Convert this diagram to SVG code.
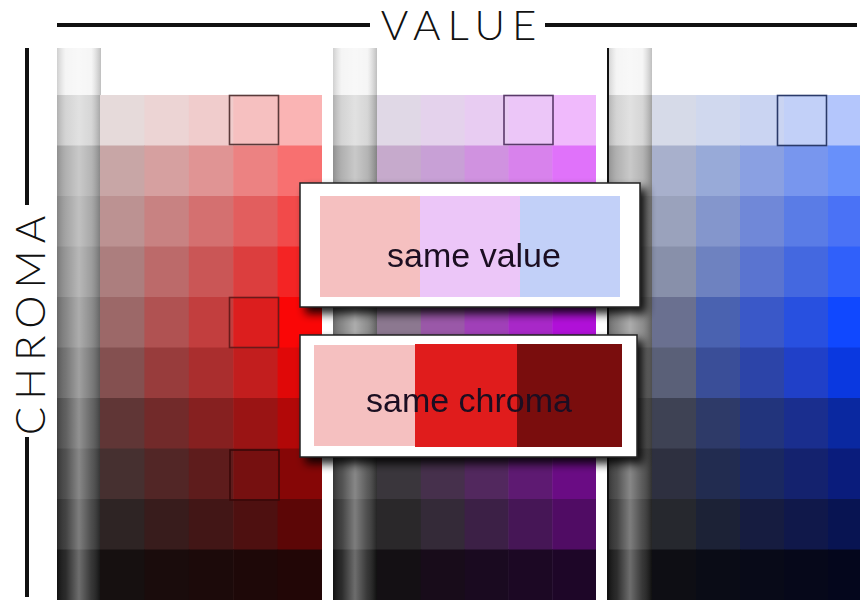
<svg xmlns="http://www.w3.org/2000/svg" width="860" height="600" viewBox="0 0 860 600">
<defs>
<linearGradient id="cyl" x1="0" y1="0" x2="1" y2="0">
<stop offset="0" stop-color="#000" stop-opacity="0.15"/>
<stop offset="0.2" stop-color="#fff" stop-opacity="0.1"/>
<stop offset="0.5" stop-color="#fff" stop-opacity="0.38"/>
<stop offset="0.78" stop-color="#fff" stop-opacity="0.15"/>
<stop offset="1" stop-color="#000" stop-opacity="0.22"/>
</linearGradient>
<filter id="sh" x="-10%" y="-15%" width="130%" height="145%">
<feGaussianBlur in="SourceAlpha" stdDeviation="5"/>
<feOffset dx="6" dy="6"/>
<feComponentTransfer><feFuncA type="linear" slope="0.9"/></feComponentTransfer>
<feMerge><feMergeNode/><feMergeNode in="SourceGraphic"/></feMerge>
</filter>
<g id="grayCol">
<rect x="0" y="48" width="44" height="48" fill="#f4f4f4"/>
<rect x="0" y="95" width="44" height="51" fill="#cfcfcf"/>
<rect x="0" y="145.5" width="44" height="51" fill="#a8a8a8"/>
<rect x="0" y="196" width="44" height="51" fill="#9a9a9a"/>
<rect x="0" y="246.5" width="44" height="51" fill="#8c8c8c"/>
<rect x="0" y="297" width="44" height="51" fill="#7a7a7a"/>
<rect x="0" y="347.5" width="44" height="51" fill="#666666"/>
<rect x="0" y="398" width="44" height="51" fill="#4e4e4e"/>
<rect x="0" y="448.5" width="44" height="51" fill="#3e3e3e"/>
<rect x="0" y="499" width="44" height="51" fill="#2e2e2e"/>
<rect x="0" y="549.5" width="44" height="51" fill="#141414"/>
<rect x="0" y="48" width="44" height="552" fill="url(#cyl)"/>
</g>
</defs>
<style>
.ax{font-family:Lato,"Open Sans","DejaVu Sans",sans-serif;font-weight:300;font-size:42px;fill:#111;letter-spacing:7px}
.lab{font-family:"Liberation Sans",Arial,sans-serif;font-size:34px;fill:#1a1020}
.sq{fill:none;stroke-width:1.6}
.box{fill:#fff;stroke:#222;stroke-width:1.5}
</style>
<rect width="860" height="600" fill="#fff"/>

<g id="axes">
<line x1="57" y1="25" x2="370" y2="25" stroke="#111" stroke-width="4"/>
<text class="ax" x="462" y="40" text-anchor="middle">VALUE</text>
<line x1="545" y1="25" x2="857" y2="25" stroke="#111" stroke-width="4"/>
<line x1="27" y1="48" x2="27" y2="205" stroke="#111" stroke-width="4"/>
<text class="ax" transform="translate(45,322) rotate(-90)" text-anchor="middle">CHROMA</text>
<line x1="27" y1="437" x2="27" y2="597" stroke="#111" stroke-width="4"/>
</g>

<g id="red-panel">
<use href="#grayCol" x="57"/>
<g transform="translate(100,0)">
<rect x="0" y="95" width="45" height="51" fill="#e6dada"/><rect x="44.4" y="95" width="45" height="51" fill="#ecd4d4"/><rect x="88.8" y="95" width="45" height="51" fill="#f0cccc"/><rect x="133.2" y="95" width="45" height="51" fill="#f6c0c0"/><rect x="177.6" y="95" width="44.4" height="51" fill="#fab4b4"/>
<rect x="0" y="145.5" width="45" height="51" fill="#c8a6a6"/><rect x="44.4" y="145.5" width="45" height="51" fill="#d6a0a0"/><rect x="88.8" y="145.5" width="45" height="51" fill="#e09494"/><rect x="133.2" y="145.5" width="45" height="51" fill="#ec8282"/><rect x="177.6" y="145.5" width="44.4" height="51" fill="#f87070"/>
<rect x="0" y="196" width="45" height="51" fill="#bc9292"/><rect x="44.4" y="196" width="45" height="51" fill="#c88282"/><rect x="88.8" y="196" width="45" height="51" fill="#d47070"/><rect x="133.2" y="196" width="45" height="51" fill="#e25e5e"/><rect x="177.6" y="196" width="44.4" height="51" fill="#f24a4a"/>
<rect x="0" y="246.5" width="45" height="51" fill="#ac7e7e"/><rect x="44.4" y="246.5" width="45" height="51" fill="#bc6a6a"/><rect x="88.8" y="246.5" width="45" height="51" fill="#ca5656"/><rect x="133.2" y="246.5" width="45" height="51" fill="#dc3e3e"/><rect x="177.6" y="246.5" width="44.4" height="51" fill="#f42424"/>
<rect x="0" y="297" width="45" height="51" fill="#9c6868"/><rect x="44.4" y="297" width="45" height="51" fill="#b05252"/><rect x="88.8" y="297" width="45" height="51" fill="#c23e3e"/><rect x="133.2" y="297" width="45" height="51" fill="#dc1e1e"/><rect x="177.6" y="297" width="44.4" height="51" fill="#fa0606"/>
<rect x="0" y="347.5" width="45" height="51" fill="#845050"/><rect x="44.4" y="347.5" width="45" height="51" fill="#983c3c"/><rect x="88.8" y="347.5" width="45" height="51" fill="#aa2e2e"/><rect x="133.2" y="347.5" width="45" height="51" fill="#c21e1e"/><rect x="177.6" y="347.5" width="44.4" height="51" fill="#e00808"/>
<rect x="0" y="398" width="45" height="51" fill="#603636"/><rect x="44.4" y="398" width="45" height="51" fill="#722a2a"/><rect x="88.8" y="398" width="45" height="51" fill="#862020"/><rect x="133.2" y="398" width="45" height="51" fill="#9a1414"/><rect x="177.6" y="398" width="44.4" height="51" fill="#b20808"/>
<rect x="0" y="448.5" width="45" height="51" fill="#463030"/><rect x="44.4" y="448.5" width="45" height="51" fill="#522626"/><rect x="88.8" y="448.5" width="45" height="51" fill="#5e1c1c"/><rect x="133.2" y="448.5" width="45" height="51" fill="#761010"/><rect x="177.6" y="448.5" width="44.4" height="51" fill="#860606"/>
<rect x="0" y="499" width="45" height="51" fill="#2e2424"/><rect x="44.4" y="499" width="45" height="51" fill="#381c1c"/><rect x="88.8" y="499" width="45" height="51" fill="#421616"/><rect x="133.2" y="499" width="45" height="51" fill="#4e1010"/><rect x="177.6" y="499" width="44.4" height="51" fill="#5c0606"/>
<rect x="0" y="549.5" width="45" height="51" fill="#161010"/><rect x="44.4" y="549.5" width="45" height="51" fill="#1a0c0c"/><rect x="88.8" y="549.5" width="45" height="51" fill="#1c0a0a"/><rect x="133.2" y="549.5" width="45" height="51" fill="#1e0808"/><rect x="177.6" y="549.5" width="44.4" height="51" fill="#220606"/>
</g>
<rect class="sq" x="229.5" y="95.5" width="49" height="49" stroke="#5a3a3a"/>
<rect class="sq" x="229.5" y="297.5" width="49" height="50" stroke="#6a1a1a"/>
<rect class="sq" x="230" y="450" width="49" height="50" stroke="#3a0808"/>
</g>

<g id="purple-panel">
<use href="#grayCol" x="333"/>
<g transform="translate(377,0)">
<rect x="0" y="95" width="44.3" height="51" fill="#e0d8e6"/><rect x="43.8" y="95" width="44.3" height="51" fill="#e4d2ec"/><rect x="87.6" y="95" width="44.3" height="51" fill="#e8ccf2"/><rect x="131.4" y="95" width="44.3" height="51" fill="#ecc6f8"/><rect x="175.2" y="95" width="43.8" height="51" fill="#f0bafc"/>
<rect x="0" y="145.5" width="44.3" height="51" fill="#c6aacc"/><rect x="43.8" y="145.5" width="44.3" height="51" fill="#c8a0d6"/><rect x="87.6" y="145.5" width="44.3" height="51" fill="#d092e0"/><rect x="131.4" y="145.5" width="44.3" height="51" fill="#d882ec"/><rect x="175.2" y="145.5" width="43.8" height="51" fill="#e072fa"/>
<rect x="0" y="196" width="44.3" height="51" fill="#b898bc"/><rect x="43.8" y="196" width="44.3" height="51" fill="#b888c8"/><rect x="87.6" y="196" width="44.3" height="51" fill="#c078d8"/><rect x="131.4" y="196" width="44.3" height="51" fill="#c864e8"/><rect x="175.2" y="196" width="43.8" height="51" fill="#d050f6"/>
<rect x="0" y="246.5" width="44.3" height="51" fill="#a888ac"/><rect x="43.8" y="246.5" width="44.3" height="51" fill="#a870bc"/><rect x="87.6" y="246.5" width="44.3" height="51" fill="#b05cd0"/><rect x="131.4" y="246.5" width="44.3" height="51" fill="#b848e2"/><rect x="175.2" y="246.5" width="43.8" height="51" fill="#c030f4"/>
<rect x="0" y="297" width="44.3" height="51" fill="#8c7890"/><rect x="43.8" y="297" width="44.3" height="51" fill="#9a58a8"/><rect x="87.6" y="297" width="44.3" height="51" fill="#a040b8"/><rect x="131.4" y="297" width="44.3" height="51" fill="#a828c8"/><rect x="175.2" y="297" width="43.8" height="51" fill="#b010d8"/>
<rect x="0" y="347.5" width="44.3" height="51" fill="#706070"/><rect x="43.8" y="347.5" width="44.3" height="51" fill="#7c4488"/><rect x="87.6" y="347.5" width="44.3" height="51" fill="#86309a"/><rect x="131.4" y="347.5" width="44.3" height="51" fill="#901eb0"/><rect x="175.2" y="347.5" width="43.8" height="51" fill="#9a0cc0"/>
<rect x="0" y="398" width="44.3" height="51" fill="#4c404e"/><rect x="43.8" y="398" width="44.3" height="51" fill="#583462"/><rect x="87.6" y="398" width="44.3" height="51" fill="#642676"/><rect x="131.4" y="398" width="44.3" height="51" fill="#701a8a"/><rect x="175.2" y="398" width="43.8" height="51" fill="#7c0c9c"/>
<rect x="0" y="448.5" width="44.3" height="51" fill="#3a363c"/><rect x="43.8" y="448.5" width="44.3" height="51" fill="#46304c"/><rect x="87.6" y="448.5" width="44.3" height="51" fill="#52285e"/><rect x="131.4" y="448.5" width="44.3" height="51" fill="#5e1a72"/><rect x="175.2" y="448.5" width="43.8" height="51" fill="#6a0c84"/>
<rect x="0" y="499" width="44.3" height="51" fill="#2a282a"/><rect x="43.8" y="499" width="44.3" height="51" fill="#342a38"/><rect x="87.6" y="499" width="44.3" height="51" fill="#3c2046"/><rect x="131.4" y="499" width="44.3" height="51" fill="#461656"/><rect x="175.2" y="499" width="43.8" height="51" fill="#500c64"/>
<rect x="0" y="549.5" width="44.3" height="51" fill="#141014"/><rect x="43.8" y="549.5" width="44.3" height="51" fill="#180c1a"/><rect x="87.6" y="549.5" width="44.3" height="51" fill="#1a0a20"/><rect x="131.4" y="549.5" width="44.3" height="51" fill="#1c0824"/><rect x="175.2" y="549.5" width="43.8" height="51" fill="#1e0628"/>
</g>
<rect class="sq" x="504" y="95.5" width="49" height="49" stroke="#5a3a6a"/>
</g>

<g id="blue-panel">
<use href="#grayCol" x="608"/>
<g transform="translate(652,0)">
<rect x="0" y="95" width="44.5" height="51" fill="#d6dae8"/><rect x="44" y="95" width="44.5" height="51" fill="#d0d8ee"/><rect x="88" y="95" width="44.5" height="51" fill="#cad4f2"/><rect x="132" y="95" width="44.5" height="51" fill="#c2d0f8"/><rect x="176" y="95" width="44" height="51" fill="#b4c6fc"/>
<rect x="0" y="145.5" width="44.5" height="51" fill="#a8b0cc"/><rect x="44" y="145.5" width="44.5" height="51" fill="#98aad8"/><rect x="88" y="145.5" width="44.5" height="51" fill="#8aa0e2"/><rect x="132" y="145.5" width="44.5" height="51" fill="#7896ee"/><rect x="176" y="145.5" width="44" height="51" fill="#6890fa"/>
<rect x="0" y="196" width="44.5" height="51" fill="#9aa2bc"/><rect x="44" y="196" width="44.5" height="51" fill="#8496cc"/><rect x="88" y="196" width="44.5" height="51" fill="#7088d8"/><rect x="132" y="196" width="44.5" height="51" fill="#5a7ce6"/><rect x="176" y="196" width="44" height="51" fill="#4a72f6"/>
<rect x="0" y="246.5" width="44.5" height="51" fill="#8890aa"/><rect x="44" y="246.5" width="44.5" height="51" fill="#6e82c0"/><rect x="88" y="246.5" width="44.5" height="51" fill="#5a74d0"/><rect x="132" y="246.5" width="44.5" height="51" fill="#4468e0"/><rect x="176" y="246.5" width="44" height="51" fill="#3060fa"/>
<rect x="0" y="297" width="44.5" height="51" fill="#6a7090"/><rect x="44" y="297" width="44.5" height="51" fill="#4a62b0"/><rect x="88" y="297" width="44.5" height="51" fill="#3a58c8"/><rect x="132" y="297" width="44.5" height="51" fill="#2850e0"/><rect x="176" y="297" width="44" height="51" fill="#1048ff"/>
<rect x="0" y="347.5" width="44.5" height="51" fill="#5a6078"/><rect x="44" y="347.5" width="44.5" height="51" fill="#3a4e98"/><rect x="88" y="347.5" width="44.5" height="51" fill="#2c44a8"/><rect x="132" y="347.5" width="44.5" height="51" fill="#2040c8"/><rect x="176" y="347.5" width="44" height="51" fill="#0a38e0"/>
<rect x="0" y="398" width="44.5" height="51" fill="#3e4254"/><rect x="44" y="398" width="44.5" height="51" fill="#2e3a68"/><rect x="88" y="398" width="44.5" height="51" fill="#22347c"/><rect x="132" y="398" width="44.5" height="51" fill="#1a2e8e"/><rect x="176" y="398" width="44" height="51" fill="#0a28a0"/>
<rect x="0" y="448.5" width="44.5" height="51" fill="#2e3040"/><rect x="44" y="448.5" width="44.5" height="51" fill="#222c50"/><rect x="88" y="448.5" width="44.5" height="51" fill="#1a2860"/><rect x="132" y="448.5" width="44.5" height="51" fill="#14226e"/><rect x="176" y="448.5" width="44" height="51" fill="#0a1c7c"/>
<rect x="0" y="499" width="44.5" height="51" fill="#26282e"/><rect x="44" y="499" width="44.5" height="51" fill="#1c2236"/><rect x="88" y="499" width="44.5" height="51" fill="#161c40"/><rect x="132" y="499" width="44.5" height="51" fill="#10184a"/><rect x="176" y="499" width="44" height="51" fill="#081452"/>
<rect x="0" y="549.5" width="44.5" height="51" fill="#0e0e14"/><rect x="44" y="549.5" width="44.5" height="51" fill="#0a0c16"/><rect x="88" y="549.5" width="44.5" height="51" fill="#080a18"/><rect x="132" y="549.5" width="44.5" height="51" fill="#06081a"/><rect x="176" y="549.5" width="44" height="51" fill="#04061c"/>
</g>
<rect class="sq" x="777.5" y="95.5" width="49" height="50" stroke="#2a3a6a"/>
<line x1="608" y1="48" x2="608" y2="600" stroke="#111" stroke-width="2"/>
</g>

<g id="same-value" filter="url(#sh)">
<rect class="box" x="300" y="183" width="340" height="124"/>
<rect x="320" y="196" width="101" height="101" fill="#f5c0c0"/>
<rect x="420" y="196" width="101" height="101" fill="#ecc6f8"/>
<rect x="520" y="196" width="100" height="101" fill="#c2d0f8"/>
<text class="lab" x="474" y="267" text-anchor="middle">same value</text>
</g>

<g id="same-chroma" filter="url(#sh)">
<rect class="box" x="300" y="335" width="337" height="122"/>
<rect x="314" y="345" width="102" height="101" fill="#f5c0c0"/>
<rect x="415" y="344" width="103" height="103" fill="#e01c1c"/>
<rect x="517" y="344" width="105" height="103" fill="#7a0f0f"/>
<text class="lab" x="469" y="412" text-anchor="middle">same chroma</text>
</g>
</svg>
